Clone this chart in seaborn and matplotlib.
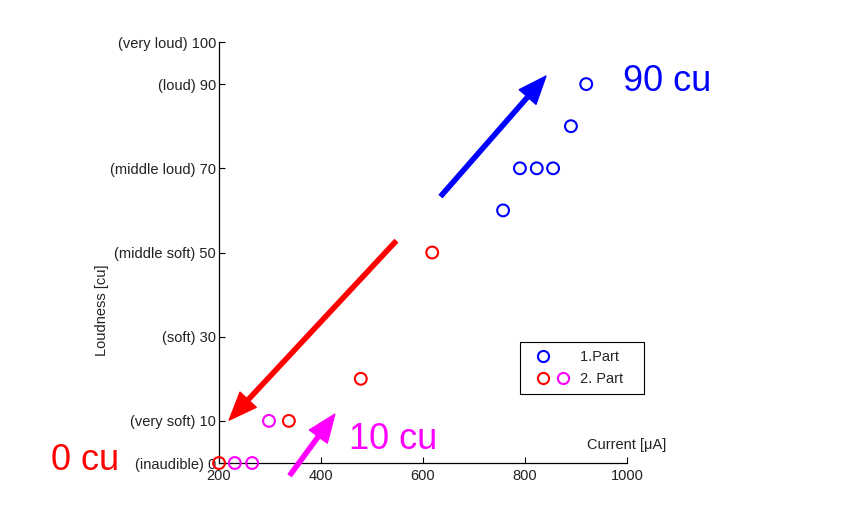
import matplotlib
matplotlib.use("Agg")
import matplotlib.pyplot as plt
import seaborn as sns
from matplotlib.lines import Line2D
from matplotlib.legend_handler import HandlerTuple

# data
part1_current = [757, 790, 823, 855, 890, 920]
part1_loudness = [60, 70, 70, 70, 80, 90]
part2_red_current = [200, 337, 478, 618]
part2_red_loudness = [0, 10, 20, 50]
part2_mag_current = [231, 265, 298]
part2_mag_loudness = [0, 0, 10]

ytick_values = [0, 10, 30, 50, 70, 90, 100]
ytick_names = ["(inaudible)", "(very soft)", "(soft)", "(middle soft)",
               "(middle loud)", "(loud)", "(very loud)"]
xtick_values = [200, 400, 600, 800, 1000]

# arrows (tail, head) in data units, and their labels
arrows = [
    ((635, 63.4), (841, 91.9), "blue"),
    ((547, 52.7), (220, 10.2), "red"),
    ((339, -2.9), (427, 11.6), "magenta"),
]
labels = [
    ("90 cu", (1079, 90.5), "blue"),
    ("0 cu", (-63, 0.7), "red"),
    ("10 cu", (541, 5.5), "magenta"),
]

sns.set_style("ticks")
plt.rcParams["font.family"] = ["Liberation Sans", "DejaVu Sans"]

fig = plt.figure(figsize=(8.43, 5.16), dpi=100)
ax = fig.add_axes([0.2598, 0.1027, 0.484, 0.8159])

mk = dict(marker="o", s=72, facecolors="none", linewidth=1.5,
          clip_on=False, zorder=3, legend=False)
sns.scatterplot(x=part1_current, y=part1_loudness, edgecolor="blue", ax=ax, **mk)
sns.scatterplot(x=part2_red_current, y=part2_red_loudness, edgecolor="red", ax=ax, **mk)
sns.scatterplot(x=part2_mag_current, y=part2_mag_loudness, edgecolor="magenta", ax=ax, **mk)

ax.set_xlim(200, 1000)
ax.set_ylim(0, 100)
ax.set_xticks(xtick_values)
ax.set_yticks(ytick_values)
ax.set_yticklabels([f"{n} {v}" for n, v in zip(ytick_names, ytick_values)])
ax.tick_params(direction="in", length=4, width=0.8, labelsize=10.5,
               pad=2, colors="black", labelcolor="#222222")
ax.tick_params(axis="x", pad=4.5)
sns.despine(ax=ax)
for sp in ("left", "bottom"):
    ax.spines[sp].set_linewidth(0.9)
    ax.spines[sp].set_color("black")

ax.set_ylabel("Loudness [cu]", fontsize=10.5, color="#222222")
ax.yaxis.set_label_coords(-0.27, 0.363)
ax.set_xlabel("Current [μA]", fontsize=10.5, color="#222222", ha="right")
ax.xaxis.set_label_coords(1.095, 0.06)

for (x0, y0), (x1, y1), c in arrows:
    ax.annotate("", xy=(x1, y1), xytext=(x0, y0), annotation_clip=False,
                arrowprops=dict(arrowstyle="simple,head_length=2.0,head_width=1.6,tail_width=0.3",
                                mutation_scale=10, color=c, shrinkA=0, shrinkB=0))

for txt, (x, y), c in labels:
    ax.text(x, y, txt, color=c, fontsize=26, ha="center", va="center", clip_on=False)

blank = Line2D([], [], linestyle="none")
h_blue = Line2D([], [], marker="o", linestyle="none", markerfacecolor="none",
                markeredgecolor="blue", markeredgewidth=1.5, markersize=8)
h_red = Line2D([], [], marker="o", linestyle="none", markerfacecolor="none",
               markeredgecolor="red", markeredgewidth=1.5, markersize=8)
h_mag = Line2D([], [], marker="o", linestyle="none", markerfacecolor="none",
               markeredgecolor="magenta", markeredgewidth=1.5, markersize=8)
leg = ax.legend([(h_blue, blank), (h_red, h_mag)], ["1.Part   ", "2. Part   "],
                handler_map={tuple: HandlerTuple(ndivide=None, pad=-0.685)},
                loc="upper left", bbox_to_anchor=(0.738, 0.287),
                fancybox=False, edgecolor="black", framealpha=1,
                fontsize=10.5, handlelength=3.42, handletextpad=0.15,
                borderpad=0.55, labelspacing=0.55, borderaxespad=0)
leg.get_frame().set_linewidth(0.8)

fig.savefig("out.png", dpi=100)
